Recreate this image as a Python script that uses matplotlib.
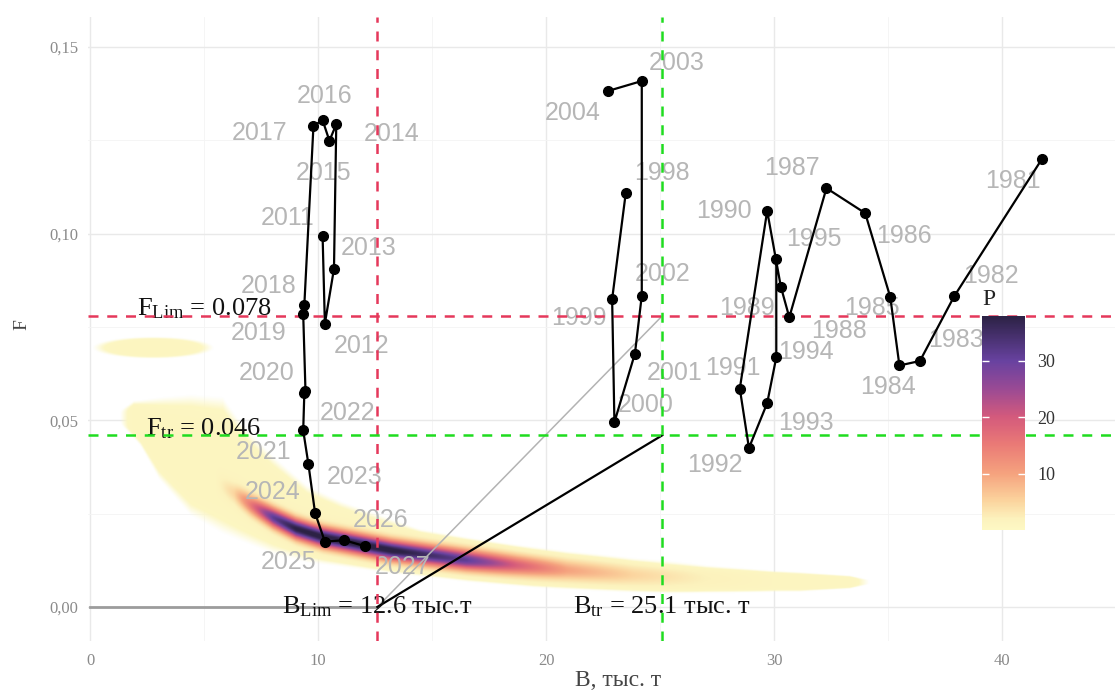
import numpy as np
import matplotlib
matplotlib.use('Agg')
import matplotlib.pyplot as plt
from matplotlib.colors import LinearSegmentedColormap, Normalize
from matplotlib.ticker import MultipleLocator, FuncFormatter
from matplotlib.cm import ScalarMappable

nan = np.nan

# stock trajectory (B, thousand t ; F), gaps where no estimate
years = list(range(1981, 2028))
biomass = [41.75, 37.9, 36.4, 35.5, 35.1, 34.0, 32.3, 30.67, 30.3, 29.7,
           28.5, 28.9, 29.7, 30.1, 30.1, nan, nan,
           23.5, 22.9, 23.0, 23.9, 24.2, 24.2, 22.7,
           nan, nan, nan, nan, nan, nan,
           10.2, 10.3, 10.7, 10.8, 10.5, 10.2, 9.8, 9.4, 9.35, 9.45,
           9.40, 9.35, 9.58, 9.87, 10.3, 11.14, 12.06]
fmort = [0.120, 0.0832, 0.0659, 0.0647, 0.083, 0.1055, 0.1122, 0.0776, 0.0858, 0.1061,
         0.0585, 0.0426, 0.0546, 0.0669, 0.0932, nan, nan,
         0.111, 0.0825, 0.0495, 0.0679, 0.0834, 0.1409, 0.1382,
         nan, nan, nan, nan, nan, nan,
         0.0995, 0.0759, 0.0906, 0.1293, 0.1249, 0.1304, 0.1289, 0.0810, 0.0785, 0.0578,
         0.0574, 0.0473, 0.0382, 0.0252, 0.0175, 0.0179, 0.0163]

# where the year labels sit (repelled positions)
label_pos = {
    1981: (40.5, 0.1142), 1982: (39.5, 0.0888), 1983: (38.0, 0.0714), 1984: (35.0, 0.0588),
    1985: (34.3, 0.0802), 1986: (35.7, 0.0995), 1987: (30.8, 0.1176), 1988: (32.85, 0.074),
    1989: (28.8, 0.0802), 1990: (27.8, 0.1061), 1991: (28.2, 0.0639), 1992: (27.4, 0.038),
    1993: (31.4, 0.0492), 1994: (31.4, 0.0682), 1995: (31.75, 0.0987),
    1998: (25.1, 0.1163), 1999: (21.45, 0.0773), 2000: (24.35, 0.054), 2001: (25.65, 0.0626),
    2002: (25.1, 0.0893), 2003: (25.75, 0.1457), 2004: (21.15, 0.1324),
    2011: (8.65, 0.1043), 2012: (11.9, 0.070), 2013: (12.2, 0.0963), 2014: (13.25, 0.1267),
    2015: (10.26, 0.1163), 2016: (10.3, 0.1369), 2017: (7.45, 0.127), 2018: (7.85, 0.0861),
    2019: (7.4, 0.0735), 2020: (7.75, 0.0628), 2021: (7.6, 0.0414), 2022: (11.3, 0.0519),
    2023: (11.6, 0.0348), 2024: (8.0, 0.0307), 2025: (8.7, 0.012), 2026: (12.75, 0.0233),
    2027: (13.7, 0.0107),
}

# reference points
F_lim, F_tr = 0.078, 0.046
B_lim, B_tr = 12.6, 25.1

# projection density cloud
halo_b = [1.2, 1.9, 2.2, 3.0, 4.4, 5.8, 6.6, 8.0, 9.5, 11.0, 13.2, 14.5, 19.4, 25.3, 31.1, 33.3, 34.3]
halo_top = [0.0525, 0.0545, 0.0545, 0.0545, 0.0545, 0.0535, 0.047, 0.0385, 0.031, 0.027,
            0.0225, 0.0198, 0.0144, 0.0107, 0.0090, 0.0082, 0.0072]
halo_bot = [0.0495, 0.046, 0.044, 0.036, 0.027, 0.0225, 0.0201, 0.0163, 0.0135, 0.0122,
            0.0105, 0.0097, 0.0064, 0.0045, 0.0045, 0.0052, 0.0062]
halo_amp = [0.0, 1.0, 1.0, 1.0, 1.0, 1.0, 1.0, 1.0, 1.0, 1.0, 1.0, 1.0, 1.0, 1.0, 1.0, 1.0, 0.0]
ridge_b = [5.5, 6.3, 7.0, 8.0, 9.0, 10.2, 13.2, 16.5, 18.7, 20.9, 23.8, 27.0, 30.0]
ridge_f = [0.0335, 0.0305, 0.0275, 0.024, 0.021, 0.0187, 0.0152, 0.0126, 0.0112, 0.0099,
           0.0086, 0.0077, 0.0070]
ridge_amp = [0, 4, 14, 30, 37, 38, 38, 30, 18, 9, 4, 1, 0]
blob = (2.75, 0.0695, 2.25, 0.0025)  # separate small cloud: centre B, F, half widths

plt.rcParams['font.family'] = ['Liberation Serif', 'DejaVu Serif']
plt.rcParams['mathtext.fontset'] = 'custom'
plt.rcParams['mathtext.rm'] = 'Liberation Serif'
plt.rcParams['mathtext.it'] = 'Liberation Serif:italic'
plt.rcParams['mathtext.bf'] = 'Liberation Serif:bold'

fig = plt.figure(figsize=(11.15, 6.9), dpi=100)
ax = fig.add_axes([0.0787, 0.0716, 0.9222, 0.9035])
xmin, xmax, ymin, ymax = -0.1, 45.0, -0.009, 0.158
ax.set_xlim(xmin, xmax)
ax.set_ylim(ymin, ymax)

cmap = LinearSegmentedColormap.from_list('pcol', [
    (0.0, '#fdf8c4'), (0.05, '#fcf2bd'), (0.14, '#fbd29c'), (0.264, '#f5a27e'),
    (0.40, '#ea7a76'), (0.528, '#d45a7c'), (0.66, '#9a4a94'), (0.79, '#6842a0'),
    (1.0, '#2c2245')])
norm = Normalize(0, 37.9)

# density raster
Bg = np.linspace(xmin, xmax, 1400)
Fg = np.linspace(ymin, ymax, 1000)
BB, FF = np.meshgrid(Bg, Fg)
top = np.interp(Bg, halo_b, halo_top, left=nan, right=nan)
bot = np.interp(Bg, halo_b, halo_bot, left=nan, right=nan)
amp = np.interp(Bg, halo_b, halo_amp, left=0, right=0)
cen = (top + bot) / 2
hw = (top - bot) / 2
t = (FF - cen) / hw
halo = np.nan_to_num(amp * np.exp(-0.693 * t ** 6))
rc = np.interp(Bg, ridge_b, ridge_f)
ra = np.interp(Bg, ridge_b, ridge_amp, left=0, right=0)
ridge = ra * np.exp(-0.5 * ((FF - rc) / 0.0018) ** 2)
r2 = ((BB - blob[0]) / blob[2]) ** 2 + ((FF - blob[1]) / blob[3]) ** 2
ell = np.exp(-0.693 * r2 ** 3)
dens = ridge + halo + ell
rgba = cmap(norm(dens))
rgba[..., 3] = np.clip((dens - 0.15) / 0.45, 0, 1)
ax.imshow(rgba, extent=[xmin, xmax, ymin, ymax], origin='lower', aspect='auto',
          interpolation='bilinear', zorder=1)

# grid and axes style
ax.xaxis.set_major_locator(MultipleLocator(10))
ax.xaxis.set_minor_locator(MultipleLocator(5))
ax.yaxis.set_major_locator(MultipleLocator(0.05))
ax.yaxis.set_minor_locator(MultipleLocator(0.025))
ax.yaxis.set_major_formatter(FuncFormatter(lambda v, p: f'{v:.2f}'.replace('.', ',')))
ax.grid(True, which='major', color='#e9e9e9', lw=1.0, zorder=0)
ax.grid(True, which='minor', color='#f4f4f4', lw=0.6, zorder=0)
ax.set_axisbelow(True)
for s in ax.spines.values():
    s.set_visible(False)
ax.tick_params(which='both', length=0, labelsize=12, labelcolor='#8a8a8a')
ax.tick_params(axis='y', pad=7)
ax.tick_params(axis='x', pad=9)

# harvest control rule
ax.plot([0, B_lim], [0, 0], color='#9c9c9c', lw=2.0, zorder=3)
ax.plot([B_lim, B_tr], [0, F_lim], color='#b3b3b3', lw=1.1, zorder=3)
ax.plot([B_lim, B_tr], [0, F_tr], color='black', lw=1.6, zorder=3)

# reference lines
red, green = '#e5385b', '#1fdc1f'
dash = (0, (4, 3.5))
ax.axhline(F_lim, color=red, ls=dash, lw=1.8, zorder=4)
ax.axvline(B_lim, color=red, ls=dash, lw=1.8, zorder=4)
ax.axhline(F_tr, color=green, ls=dash, lw=1.8, zorder=4)
ax.axvline(B_tr, color=green, ls=dash, lw=1.8, zorder=4)

# year labels
for yr, b, f in zip(years, biomass, fmort):
    if np.isnan(b):
        continue
    lb, lf = label_pos[yr]
    ax.text(lb, lf, str(yr), family=['Liberation Sans', 'DejaVu Sans'], fontsize=18,
            color='#b6b6b6', ha='center', va='center', zorder=2)

# trajectory
ax.plot(biomass, fmort, color='black', lw=1.6, marker='o', ms=7, zorder=5)

# annotations
ax.text(5.0, F_lim, r'F$_{\mathrm{Lim}}$ = 0.078', fontsize=19, ha='center', va='baseline',
        color='#111111', zorder=3)
ax.text(5.0, F_tr, r'F$_{\mathrm{tr}}$ = 0.046', fontsize=19, ha='center', va='baseline',
        color='#111111', zorder=3)
ax.text(B_lim, 0.0, r'B$_{\mathrm{Lim}}$ = 12.6 тыс.т', fontsize=19, ha='center', va='center',
        color='#111111', zorder=3)
ax.text(B_tr, 0.0, r'B$_{\mathrm{tr}}$ = 25.1 тыс. т', fontsize=19, ha='center', va='center',
        color='#111111', zorder=3)

fig.text(618 / 1115, 1 - 680 / 690, 'B, тыс. т', fontsize=17, color='#444444',
         ha='center', va='center')
fig.text(22 / 1115, 1 - 325 / 690, 'F', fontsize=14, color='#444444', rotation=90,
         ha='center', va='center')

# colour bar
cax = fig.add_axes([982 / 1115, 1 - 530 / 690, 43 / 1115, 214 / 690])
cb = fig.colorbar(ScalarMappable(norm=norm, cmap=cmap), cax=cax)
cb.outline.set_visible(False)
cb.set_ticks([10, 20, 30])
cax.tick_params(direction='in', length=5, width=1, color='white', left=True, right=True,
                labelsize=13, labelcolor='#333333', pad=9)
cax.set_title('P', loc='left', fontsize=17, color='#222222', pad=8)

fig.savefig('out.png', dpi=100)
